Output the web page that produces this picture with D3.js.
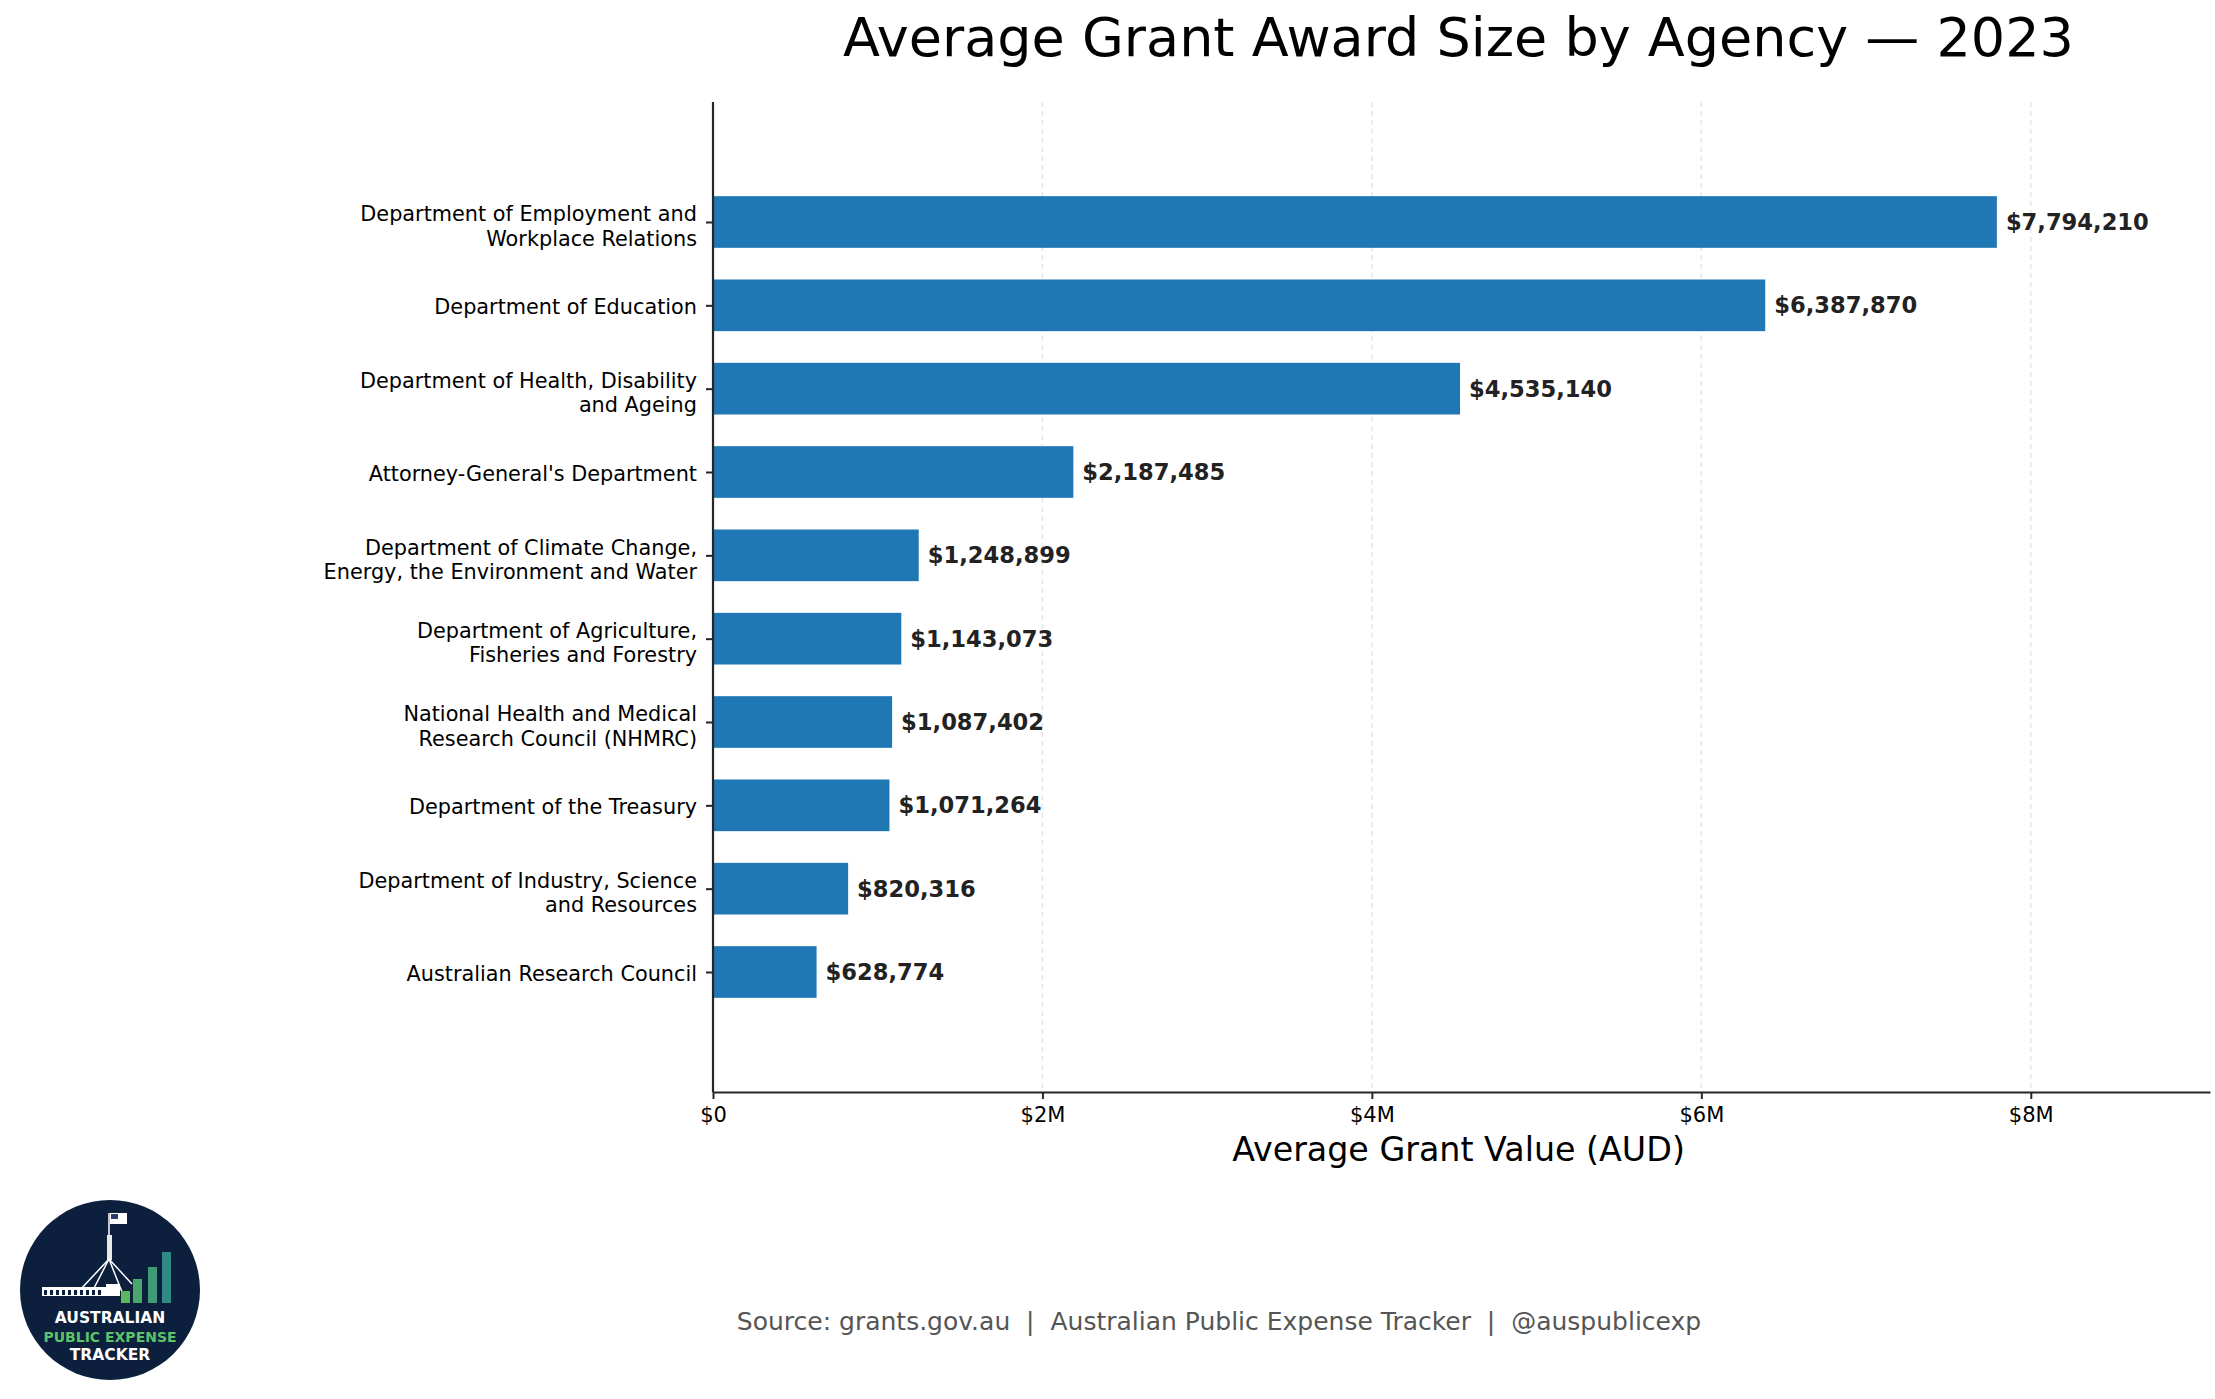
<!DOCTYPE html>
<html>
<head>
<meta charset="utf-8">
<script src="https://cdn.jsdelivr.net/npm/d3@7"></script>
<style>
  body { margin: 0; background: #fff; }
  text { font-family: "DejaVu Sans", sans-serif; }
</style>
</head>
<body>
<div class="chart"></div>
<script>
// agencies, top to bottom
const agencies = [
    "Department of Employment and\nWorkplace Relations",
    "Department of Education",
    "Department of Health, Disability\nand Ageing",
    "Attorney-General's Department",
    "Department of Climate Change,\nEnergy, the Environment and Water",
    "Department of Agriculture,\nFisheries and Forestry",
    "National Health and Medical\nResearch Council (NHMRC)",
    "Department of the Treasury",
    "Department of Industry, Science\nand Resources",
    "Australian Research Council"
];
const avg_values = [7794210, 6387870, 4535140, 2187485, 1248899, 1143073, 1087402, 1071264, 820316, 628774];

const tick_values = [0, 2000000, 4000000, 6000000, 8000000];
const tick_labels = ["$0", "$2M", "$4M", "$6M", "$8M"];

const width = 2215;
const height = 1399;
const plot = { left: 713, right: 2210, top: 102, bottom: 1092 };

const bar_color = "#1f77b4";
const spine_color = "#262626";

const svg = d3.select(".chart")
    .append("svg")
    .attr("width", width)
    .attr("height", height);

// scales
const x_scale = d3.scaleLinear()
    .domain([0, d3.max(avg_values) * 1.166])
    .range([plot.left, plot.right]);

const y_scale = d3.scalePoint()
    .domain(agencies)
    .range([plot.top, plot.bottom])
    .padding(1.44);

const bar_h = y_scale.step() * 0.62;

// dashed vertical grid
svg.append("g")
    .selectAll("line")
    .data(tick_values)
    .enter()
    .append("line")
    .attr("x1", d => x_scale(d))
    .attr("x2", d => x_scale(d))
    .attr("y1", plot.top)
    .attr("y2", plot.bottom)
    .attr("stroke", "#e6e6e6")
    .attr("stroke-width", 1.5)
    .attr("stroke-dasharray", "5,4");

// bars
svg.append("g")
    .selectAll("rect")
    .data(agencies)
    .enter()
    .append("rect")
    .attr("x", x_scale(0))
    .attr("y", d => y_scale(d) - bar_h / 2)
    .attr("width", (d, i) => x_scale(avg_values[i]) - x_scale(0))
    .attr("height", bar_h)
    .attr("fill", bar_color);

// value labels
svg.append("g")
    .selectAll("text")
    .data(agencies)
    .enter()
    .append("text")
    .attr("x", (d, i) => x_scale(avg_values[i]) + 9)
    .attr("y", d => y_scale(d))
    .attr("dy", "0.36em")
    .attr("font-size", "22.6px")
    .attr("font-weight", "bold")
    .attr("fill", "#222")
    .text((d, i) => "$" + d3.format(",")(avg_values[i]));

// x axis
const x_axis = svg.append("g")
    .attr("transform", "translate(0," + plot.bottom + ")")
    .call(d3.axisBottom(x_scale)
        .tickValues(tick_values)
        .tickFormat((d, i) => tick_labels[i])
        .tickSize(7)
        .tickPadding(8)
        .tickSizeOuter(0));

x_axis.selectAll("text")
    .attr("font-size", "21px")
    .attr("fill", "#000")
    .style("font-family", "DejaVu Sans");

// y axis
const y_axis = svg.append("g")
    .attr("transform", "translate(" + plot.left + ",0)")
    .call(d3.axisLeft(y_scale).tickSize(7).tickPadding(9).tickSizeOuter(0));

y_axis.select(".domain").attr("d", "M0," + plot.top + "V" + plot.bottom);

// multi-line agency names (two-line blocks sit a touch low, like the original)
y_axis.selectAll(".tick text").each(function(d) {
    const lines = d.split("\n");
    const t = d3.select(this).text(null)
        .attr("font-size", "20.8px")
        .attr("fill", "#000")
        .attr("dy", null)
        .style("font-family", "DejaVu Sans");
    const lh = 24.5;
    const shift = lines.length > 1 ? 3.5 : 0.8;
    lines.forEach(function(line, k) {
        t.append("tspan")
            .attr("x", -16)
            .attr("y", (k - (lines.length - 1) / 2) * lh + shift)
            .attr("dy", "0.36em")
            .text(line);
    });
});

[x_axis, y_axis].forEach(function(ax) {
    ax.select(".domain").attr("stroke", spine_color).attr("stroke-width", 2.2);
    ax.selectAll(".tick line").attr("stroke", spine_color).attr("stroke-width", 2);
});

// title + axis label
svg.append("text")
    .attr("x", (plot.left + plot.right) / 2 - 3)
    .attr("y", 56)
    .attr("text-anchor", "middle")
    .attr("font-size", "54px")
    .attr("fill", "#000")
    .text("Average Grant Award Size by Agency \u2014 2023");

svg.append("text")
    .attr("x", (plot.left + plot.right) / 2 - 3)
    .attr("y", 1161)
    .attr("text-anchor", "middle")
    .attr("font-size", "33.3px")
    .attr("fill", "#000")
    .text("Average Grant Value (AUD)");

// source line
svg.append("text")
    .attr("x", 1219)
    .attr("y", 1330)
    .attr("text-anchor", "middle")
    .attr("font-size", "25px")
    .attr("fill", "#555")
    .style("white-space", "pre")
    .attr("xml:space", "preserve")
    .text("Source: grants.gov.au  |  Australian Public Expense Tracker  |  @auspublicexp");

/* LOGO */
const logo = svg.append("g").attr("transform", "translate(110,1290)");

logo.append("circle").attr("r", 90).attr("fill", "#0c1f3d");

// parliament flagpole
logo.append("rect").attr("x", -3).attr("y", -55).attr("width", 5).attr("height", 25).attr("fill", "#e8e8e8");
logo.append("line").attr("x1", -1).attr("x2", -1).attr("y1", -77).attr("y2", -55).attr("stroke", "#fff").attr("stroke-width", 1.5);
logo.append("rect").attr("x", 0).attr("y", -77).attr("width", 17).attr("height", 11).attr("fill", "#fff");
logo.append("rect").attr("x", 1).attr("y", -76).attr("width", 7).attr("height", 5).attr("fill", "#2c3e66");
[[-30, 0], [-18, 2], [12, 2], [22, -6]].forEach(function(p) {
    logo.append("line")
        .attr("x1", -1).attr("y1", -31)
        .attr("x2", p[0]).attr("y2", p[1])
        .attr("stroke", "#fff").attr("stroke-width", 1.5);
});

// building
logo.append("rect").attr("x", -68).attr("y", -3).attr("width", 64).attr("height", 9).attr("fill", "#fff");
logo.append("rect").attr("x", -4).attr("y", -6).attr("width", 14).attr("height", 12).attr("fill", "#fff");
d3.range(10).forEach(function(k) {
    logo.append("rect")
        .attr("x", -66 + k * 6).attr("y", 0).attr("width", 3).attr("height", 5)
        .attr("fill", "#0c1f3d");
});

// growth bars
const logo_bars = [[11, 12, "#5cb85c"], [23, 24, "#4aa66a"], [38, 36, "#3f9a78"], [52, 51, "#2f8a86"]];
logo_bars.forEach(function(b) {
    logo.append("rect")
        .attr("x", b[0]).attr("y", 13 - b[1])
        .attr("width", 9).attr("height", b[1])
        .attr("fill", b[2]);
});

logo.append("text").attr("y", 33).attr("text-anchor", "middle")
    .attr("font-size", "15.5px").attr("font-weight", "bold").attr("fill", "#fff")
    .text("AUSTRALIAN");
logo.append("text").attr("y", 52).attr("text-anchor", "middle")
    .attr("font-size", "14px").attr("font-weight", "bold").attr("fill", "#5cc36b")
    .text("PUBLIC EXPENSE");
logo.append("text").attr("y", 70).attr("text-anchor", "middle")
    .attr("font-size", "15.5px").attr("font-weight", "bold").attr("fill", "#fff")
    .text("TRACKER");
</script>
</body>
</html>
